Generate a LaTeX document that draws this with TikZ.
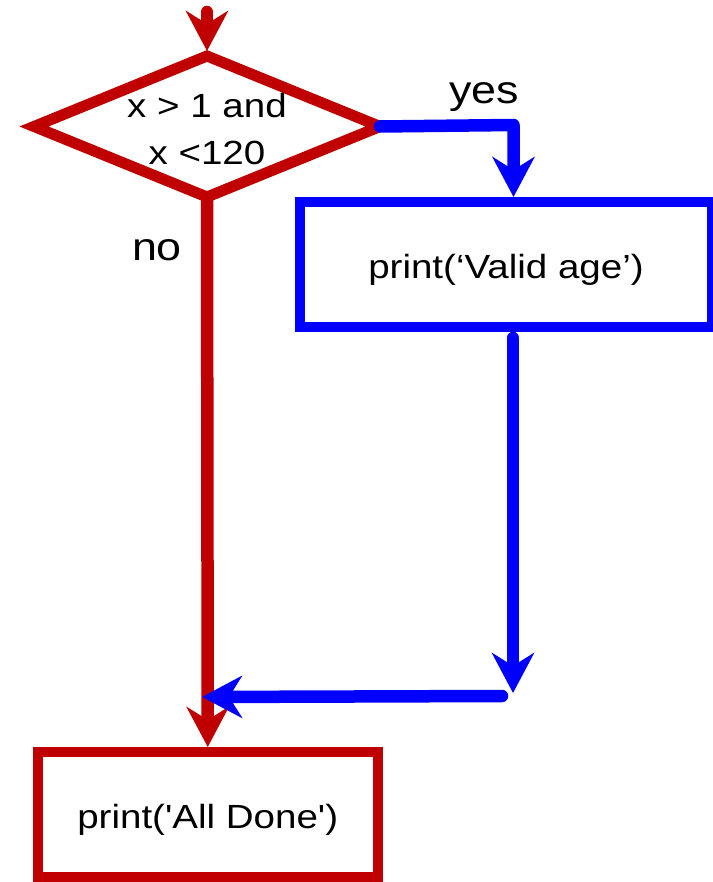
\documentclass[tikz,border=0pt]{standalone}
\usepackage{fontspec}
\newfontfamily\flowfont{Liberation Sans}[FakeStretch=1.15]
\usetikzlibrary{arrows.meta,shapes.geometric}
\definecolor{flowred}{HTML}{C00000}
\definecolor{flowblue}{HTML}{0000FF}
\begin{document}
\begin{tikzpicture}[x=1pt,y=-1pt,
  every node/.style={font=\flowfont\fontsize{33.5}{47}\selectfont},
  tip/.style={-{Stealth[length=40pt,width=42pt,inset=13pt]}},
  redline/.style={draw=flowred, line width=12.5pt, line cap=round, line join=round},
  blueline/.style={draw=flowblue, line width=12.5pt, line cap=round, line join=round},
  decision/.style={diamond, draw=flowred, line width=11pt, minimum width=346pt,
    minimum height=141pt, inner sep=0pt, outer sep=0pt},
  stepbox/.style={rectangle, line width=10pt, minimum width=#1, minimum height=125pt,
    inner sep=0pt, text height=36pt, text depth=8pt},
  branch/.style={anchor=base, inner sep=0pt, font=\flowfont\fontsize{39}{47}\selectfont}
]
\useasboundingbox (0,0) rectangle (712,882);

% decision and its condition text (base anchor sits on the last line)
\node[decision] (cond) at (207,126.5) {};
\node[align=center, anchor=base, inner sep=0pt] (condtext) at (207,165) {x > 1 and\\x <120};

% the two statements
\node[stepbox=412pt, draw=flowblue] (valid) at (506,264.5) {print(‘Valid age’)};
\node[stepbox=340.5pt, draw=flowred] (done) at (207.75,814.5) {print('All Done')};

% branch labels
\node[branch] (yeslbl) at (484,104) {yes};
\node[branch] (nolbl) at (157,261) {no};

% free ends of the connectors
\coordinate (entry) at (207,12);
\coordinate (yesturn) at (513.5,125);
\coordinate (backtop) at (513,338);
\coordinate (backend) at (513,693);
\coordinate (backstart) at (502,696);
\coordinate (merge) at (202,697);

% "no" path
\draw[redline, tip, shorten >=5pt] (entry) -- (cond.north);
\draw[redline, tip] (cond.south) -- (done.north);

% "yes" path
\draw[blueline, tip] (cond.east) -- (yesturn) -- (yesturn |- valid.north);
\draw[blueline, tip] (backtop) -- (backend);
\draw[blueline, tip] (backstart) -- (merge);
\end{tikzpicture}
\end{document}
